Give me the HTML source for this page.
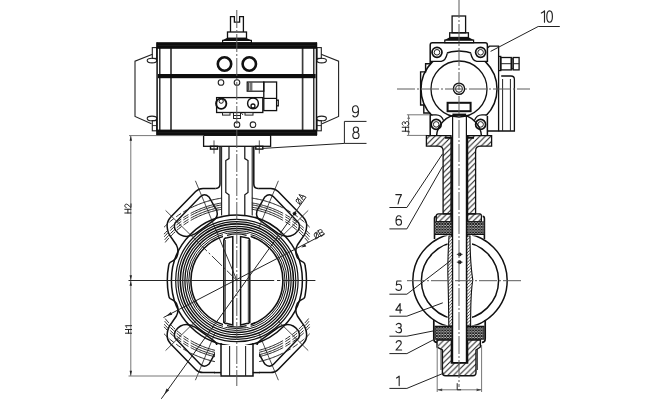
<!DOCTYPE html>
<html><head><meta charset="utf-8"><style>
html,body{margin:0;padding:0;background:#fff;}
svg{display:block;}
.k{fill:none;stroke:#111;}
.t{fill:none;stroke:#222;}
.g{fill:none;stroke:#777;stroke-width:1;}
.c{fill:none;stroke:#5a5a5a;stroke-width:1;stroke-dasharray:18 2 2 2;}
.d{fill:none;stroke:#222;stroke-width:0.9;stroke-dasharray:4 2;}
</style></head><body>
<svg width="646" height="400" viewBox="0 0 646 400">
<rect width="646" height="400" fill="#fff"/>
<path d="M230.5,32 V16.6 H234.4 V22.2 H239.6 V16.6 H243.4 V32" class="k" stroke-width="1.3"/>
<rect x="227.50" y="32.00" width="19.00" height="6.20" class="k" stroke-width="1.3"/>
<path d="M226.8,38 H246.2 L252,40.6 H222 Z" fill="#111"/>
<rect x="222.60" y="40.40" width="28.80" height="2.40" class="k" stroke-width="1.2"/>
<path d="M152.5,54.2 L135,61.2 V116.5 L151.5,123.8" class="t" stroke-width="1.1"/>
<rect x="152.3" y="47.6" width="4.3" height="10.8" class="t" stroke-width="1.1"/>
<ellipse cx="152" cy="60.6" rx="4.8" ry="2.3" class="t" stroke-width="1.1"/>
<ellipse cx="152" cy="118.4" rx="4.8" ry="2.3" class="t" stroke-width="1.1"/>
<rect x="152.3" y="120.6" width="4.3" height="10.2" class="t" stroke-width="1.1"/>
<line x1="152.3" y1="125.6" x2="156.6" y2="125.6" class="t" stroke-width="0.9"/>
<line x1="157.1" y1="42.6" x2="157.1" y2="135.2" class="k" stroke-width="1.5"/>
<line x1="159.8" y1="45" x2="159.8" y2="133" class="k" stroke-width="1.3"/>
<line x1="171" y1="45" x2="171" y2="133" class="t" stroke-width="1.7" style="stroke:#3a3a3a"/>
<g transform="matrix(-1,0,0,1,473.6,0)"><path d="M152.5,54.2 L135,61.2 V116.5 L151.5,123.8" class="t" stroke-width="1.1"/><rect x="152.3" y="47.6" width="4.3" height="10.8" class="t" stroke-width="1.1"/><ellipse cx="152" cy="60.6" rx="4.8" ry="2.3" class="t" stroke-width="1.1"/><ellipse cx="152" cy="118.4" rx="4.8" ry="2.3" class="t" stroke-width="1.1"/><rect x="152.3" y="120.6" width="4.3" height="10.2" class="t" stroke-width="1.1"/><line x1="152.3" y1="125.6" x2="156.6" y2="125.6" class="t" stroke-width="0.9"/><line x1="157.1" y1="42.6" x2="157.1" y2="135.2" class="k" stroke-width="1.5"/><line x1="159.8" y1="45" x2="159.8" y2="133" class="k" stroke-width="1.3"/><line x1="171" y1="45" x2="171" y2="133" class="t" stroke-width="1.7" style="stroke:#3a3a3a"/></g>
<rect x="156.4" y="42.2" width="160.6" height="6.6" fill="#0d0d0d"/>
<rect x="158" y="74" width="157.6" height="4.2" fill="#0d0d0d"/>
<rect x="156.4" y="129.6" width="160.6" height="6.2" fill="#0d0d0d"/>
<line x1="158.00" y1="45.50" x2="315.60" y2="45.50" class="t" stroke="#2a2a2a" stroke-width="0.5" style="stroke:#2a2a2a"/>
<line x1="158.00" y1="132.70" x2="315.60" y2="132.70" class="t" stroke-width="0.5" style="stroke:#2a2a2a"/>
<circle cx="224.50" cy="64.00" r="6.70" class="k" stroke-width="2.6"/>
<circle cx="249.30" cy="64.00" r="6.70" class="k" stroke-width="2.6"/>
<circle cx="221.00" cy="82.50" r="2.80" class="t" stroke-width="1.1"/>
<circle cx="237.00" cy="82.50" r="2.80" class="t" stroke-width="1.1"/>
<circle cx="237.00" cy="124.70" r="2.80" class="t" stroke-width="1.1"/>
<circle cx="253.00" cy="124.70" r="2.80" class="t" stroke-width="1.1"/>
<rect x="216.60" y="97.60" width="46.20" height="14.90" class="k" stroke-width="1.3"/>
<circle cx="221.20" cy="103.60" r="5.20" class="k" stroke-width="1.8"/>
<circle cx="221.20" cy="101.20" r="2.10" class="k" fill="#111" stroke-width="1"/>
<circle cx="253.00" cy="103.40" r="5.40" class="k" stroke-width="1.4"/>
<circle cx="253.00" cy="106.00" r="2.00" class="k" stroke-width="1.3"/>
<rect x="263.80" y="82.00" width="12.80" height="28.60" class="k" stroke-width="1.3"/>
<line x1="263.80" y1="98.40" x2="276.60" y2="98.40" class="k" stroke-width="1.2"/>
<rect x="247.20" y="82.00" width="16.60" height="9.20" class="k" stroke-width="1.2"/>
<line x1="248.60" y1="82.50" x2="248.60" y2="90.70" class="t" stroke-width="0.9"/>
<line x1="250.20" y1="82.50" x2="250.20" y2="90.70" class="t" stroke-width="0.9"/>
<line x1="251.80" y1="82.50" x2="251.80" y2="90.70" class="t" stroke-width="0.9"/>
<rect x="276.60" y="100.00" width="1.80" height="6.00" class="k" stroke-width="1.0"/>
<rect x="222.50" y="112.50" width="7.50" height="2.60" class="t" stroke-width="1"/>
<rect x="245.00" y="112.50" width="8.00" height="2.60" class="t" stroke-width="1"/>
<rect x="233.50" y="112.50" width="7.00" height="3.00" class="t" stroke-width="1"/>
<rect x="233.50" y="115.50" width="7.00" height="3.00" class="t" stroke-width="1"/>
<line x1="241.00" y1="112.50" x2="243.00" y2="115.00" class="t"  stroke-width="0.9"/>
<rect x="203.60" y="135.20" width="67.00" height="11.10" class="k" stroke-width="1.3"/>
<rect x="210.50" y="146.30" width="7.00" height="2.80" class="k" stroke-width="1.4"/>
<line x1="214.00" y1="140.40" x2="214.00" y2="153.60" class="t" stroke-width="0.8"/>
<rect x="255.80" y="146.30" width="7.00" height="2.80" class="k" stroke-width="1.4"/>
<line x1="259.30" y1="140.40" x2="259.30" y2="153.60" class="t" stroke-width="0.8"/>
<circle cx="236.90" cy="280.50" r="46.00" class="k" stroke-width="1.6"/>
<circle cx="236.90" cy="280.50" r="48.10" class="k" stroke-width="1.0"/>
<circle cx="236.90" cy="280.50" r="50.00" class="k" stroke-width="1.0"/>
<circle cx="236.90" cy="280.50" r="52.00" class="k" stroke-width="1.3"/>
<circle cx="236.90" cy="280.50" r="54.20" class="k" stroke-width="1.2"/>
<circle cx="236.90" cy="280.50" r="56.60" class="k" stroke-width="1.6"/>
<circle cx="236.90" cy="280.50" r="58.90" class="k" stroke-width="1.1"/>
<circle cx="236.90" cy="280.50" r="61.20" class="k" stroke-width="1.2"/>
<circle cx="236.90" cy="280.50" r="65.50" class="k" stroke-width="1.5"/>
<path d="M215.6,188.4 H203 Q198.6,188.4 195.6,191.6 L170.8,217 Q166.6,221.6 167.2,227 Q167.6,233.5 171.8,238.3 L176.4,245 Q179.6,251 176.4,257.8 Q173.6,261.2 170.2,262.4 Q168.9,263.2 168.7,265.5 Q167.3,272.5 167.3,280.5" class="k" stroke-width="1.5"/><path d="M175.2,222.8 L200.5,196.6 Q204.5,192.8 209,197 L216.8,210.6 Q218.6,217 213.4,220.6 L195.4,233.6 Q183.4,240.6 175.6,230.4 Q173.4,226.2 175.2,222.8 Z" class="k" stroke-width="1.5"/>
<g transform="matrix(-1,0,0,1,473.80,0)"><path d="M215.6,188.4 H203 Q198.6,188.4 195.6,191.6 L170.8,217 Q166.6,221.6 167.2,227 Q167.6,233.5 171.8,238.3 L176.4,245 Q179.6,251 176.4,257.8 Q173.6,261.2 170.2,262.4 Q168.9,263.2 168.7,265.5 Q167.3,272.5 167.3,280.5" class="k" stroke-width="1.5"/><path d="M175.2,222.8 L200.5,196.6 Q204.5,192.8 209,197 L216.8,210.6 Q218.6,217 213.4,220.6 L195.4,233.6 Q183.4,240.6 175.6,230.4 Q173.4,226.2 175.2,222.8 Z" class="k" stroke-width="1.5"/></g>
<g transform="matrix(1,0,0,-1,0,561.00)"><path d="M215.6,188.4 H203 Q198.6,188.4 195.6,191.6 L170.8,217 Q166.6,221.6 167.2,227 Q167.6,233.5 171.8,238.3 L176.4,245 Q179.6,251 176.4,257.8 Q173.6,261.2 170.2,262.4 Q168.9,263.2 168.7,265.5 Q167.3,272.5 167.3,280.5" class="k" stroke-width="1.5"/><path d="M175.2,222.8 L200.5,196.6 Q204.5,192.8 209,197 L216.8,210.6 Q218.6,217 213.4,220.6 L195.4,233.6 Q183.4,240.6 175.6,230.4 Q173.4,226.2 175.2,222.8 Z" class="k" stroke-width="1.5"/></g>
<g transform="matrix(-1,0,0,-1,473.80,561.00)"><path d="M215.6,188.4 H203 Q198.6,188.4 195.6,191.6 L170.8,217 Q166.6,221.6 167.2,227 Q167.6,233.5 171.8,238.3 L176.4,245 Q179.6,251 176.4,257.8 Q173.6,261.2 170.2,262.4 Q168.9,263.2 168.7,265.5 Q167.3,272.5 167.3,280.5" class="k" stroke-width="1.5"/><path d="M175.2,222.8 L200.5,196.6 Q204.5,192.8 209,197 L216.8,210.6 Q218.6,217 213.4,220.6 L195.4,233.6 Q183.4,240.6 175.6,230.4 Q173.4,226.2 175.2,222.8 Z" class="k" stroke-width="1.5"/></g>
<clipPath id="lugclip"><path d="M221.6,150 V188.4 H203 Q198.6,188.4 195.6,191.6 L170.8,217 Q163,224 163,232 L165,248 L236.9,280.5 Z"/></clipPath>
<g clip-path="url(#lugclip)"><path d="M222.00,209.21 L220.70,209.44 L219.40,209.68 L218.10,209.94 L216.80,210.22 L215.50,210.52 L214.20,210.84 L212.90,211.19 L211.60,211.55 L210.30,211.93 L209.00,212.33 L207.70,212.76 L206.40,213.20 L205.10,213.67 L203.80,214.16 L202.50,214.67 L201.20,215.21 L199.90,215.77 L198.60,216.35 L197.30,216.96 L196.00,217.59" class="t" stroke-width="1.0"/><path d="M196.00,217.59 L194.40,218.40 L192.80,219.26 L191.20,220.15 L189.60,221.09 L188.00,222.07 L186.40,223.10 L184.80,224.17 L183.20,225.30 L181.60,226.48 L180.00,227.71 L178.40,228.99 L176.80,230.34 L175.20,231.76 L173.60,233.24 L172.00,234.79 L170.40,236.43 L168.80,238.14 L167.20,239.95 L165.60,241.86 L164.00,243.88" class="t" stroke-width="0.95" stroke-dasharray="6 2.5"/><path d="M222.00,207.19 L220.70,207.41 L219.40,207.64 L218.10,207.90 L216.80,208.17 L215.50,208.47 L214.20,208.78 L212.90,209.12 L211.60,209.47 L210.30,209.84 L209.00,210.24 L207.70,210.65 L206.40,211.09 L205.10,211.54 L203.80,212.02 L202.50,212.52 L201.20,213.04 L199.90,213.59 L198.60,214.16 L197.30,214.75 L196.00,215.36" class="t" stroke-width="1.0"/><path d="M196.00,215.36 L194.40,216.16 L192.80,216.99 L191.20,217.86 L189.60,218.77 L188.00,219.72 L186.40,220.72 L184.80,221.76 L183.20,222.85 L181.60,223.99 L180.00,225.18 L178.40,226.42 L176.80,227.72 L175.20,229.08 L173.60,230.51 L172.00,232.00 L170.40,233.56 L168.80,235.21 L167.20,236.93 L165.60,238.74 L164.00,240.66" class="t" stroke-width="0.95" stroke-dasharray="6 2.5"/><path d="M222.00,204.86 L220.70,205.07 L219.40,205.30 L218.10,205.55 L216.80,205.82 L215.50,206.11 L214.20,206.41 L212.90,206.74 L211.60,207.08 L210.30,207.45 L209.00,207.83 L207.70,208.23 L206.40,208.66 L205.10,209.10 L203.80,209.57 L202.50,210.05 L201.20,210.56 L199.90,211.09 L198.60,211.64 L197.30,212.22 L196.00,212.82" class="t" stroke-width="1.0"/><path d="M196.00,212.82 L194.40,213.59 L192.80,214.39 L191.20,215.23 L189.60,216.12 L188.00,217.04 L186.40,218.00 L184.80,219.01 L183.20,220.06 L181.60,221.16 L180.00,222.31 L178.40,223.51 L176.80,224.76 L175.20,226.06 L173.60,227.43 L172.00,228.85 L170.40,230.35 L168.80,231.91 L167.20,233.55 L165.60,235.27 L164.00,237.08" class="t" stroke-width="0.95" stroke-dasharray="6 2.5"/><path d="M222.00,202.94 L220.70,203.15 L219.40,203.37 L218.10,203.62 L216.80,203.88 L215.50,204.16 L214.20,204.46 L212.90,204.78 L211.60,205.12 L210.30,205.47 L209.00,205.85 L207.70,206.24 L206.40,206.66 L205.10,207.09 L203.80,207.55 L202.50,208.02 L201.20,208.52 L199.90,209.04 L198.60,209.58 L197.30,210.14 L196.00,210.72" class="t" stroke-width="1.0"/><path d="M196.00,210.72 L194.40,211.47 L192.80,212.26 L191.20,213.08 L189.60,213.94 L188.00,214.84 L186.40,215.78 L184.80,216.76 L183.20,217.78 L181.60,218.85 L180.00,219.96 L178.40,221.13 L176.80,222.34 L175.20,223.60 L173.60,224.92 L172.00,226.30 L170.40,227.74 L168.80,229.25 L167.20,230.83 L165.60,232.48 L164.00,234.21" class="t" stroke-width="0.95" stroke-dasharray="6 2.5"/><path d="M222.00,198.08 L220.70,198.28 L219.40,198.50 L218.10,198.73 L216.80,198.98 L215.50,199.25 L214.20,199.53 L212.90,199.84 L211.60,200.16 L210.30,200.49 L209.00,200.85 L207.70,201.23 L206.40,201.62 L205.10,202.03 L203.80,202.46 L202.50,202.91 L201.20,203.38 L199.90,203.88 L198.60,204.39 L197.30,204.92 L196.00,205.47" class="t" stroke-width="1.0"/><path d="M196.00,205.47 L194.40,206.18 L192.80,206.92 L191.20,207.69 L189.60,208.50 L188.00,209.35 L186.40,210.23 L184.80,211.15 L183.20,212.11 L181.60,213.10 L180.00,214.14 L178.40,215.23 L176.80,216.35 L175.20,217.53 L173.60,218.75 L172.00,220.02 L170.40,221.34 L168.80,222.73 L167.20,224.17 L165.60,225.67 L164.00,227.24" class="t" stroke-width="0.95" stroke-dasharray="6 2.5"/></g>
<g transform="matrix(-1,0,0,1,473.80,0)"><g clip-path="url(#lugclip)"><path d="M222.00,209.21 L220.70,209.44 L219.40,209.68 L218.10,209.94 L216.80,210.22 L215.50,210.52 L214.20,210.84 L212.90,211.19 L211.60,211.55 L210.30,211.93 L209.00,212.33 L207.70,212.76 L206.40,213.20 L205.10,213.67 L203.80,214.16 L202.50,214.67 L201.20,215.21 L199.90,215.77 L198.60,216.35 L197.30,216.96 L196.00,217.59" class="t" stroke-width="1.0"/><path d="M196.00,217.59 L194.40,218.40 L192.80,219.26 L191.20,220.15 L189.60,221.09 L188.00,222.07 L186.40,223.10 L184.80,224.17 L183.20,225.30 L181.60,226.48 L180.00,227.71 L178.40,228.99 L176.80,230.34 L175.20,231.76 L173.60,233.24 L172.00,234.79 L170.40,236.43 L168.80,238.14 L167.20,239.95 L165.60,241.86 L164.00,243.88" class="t" stroke-width="0.95" stroke-dasharray="6 2.5"/><path d="M222.00,207.19 L220.70,207.41 L219.40,207.64 L218.10,207.90 L216.80,208.17 L215.50,208.47 L214.20,208.78 L212.90,209.12 L211.60,209.47 L210.30,209.84 L209.00,210.24 L207.70,210.65 L206.40,211.09 L205.10,211.54 L203.80,212.02 L202.50,212.52 L201.20,213.04 L199.90,213.59 L198.60,214.16 L197.30,214.75 L196.00,215.36" class="t" stroke-width="1.0"/><path d="M196.00,215.36 L194.40,216.16 L192.80,216.99 L191.20,217.86 L189.60,218.77 L188.00,219.72 L186.40,220.72 L184.80,221.76 L183.20,222.85 L181.60,223.99 L180.00,225.18 L178.40,226.42 L176.80,227.72 L175.20,229.08 L173.60,230.51 L172.00,232.00 L170.40,233.56 L168.80,235.21 L167.20,236.93 L165.60,238.74 L164.00,240.66" class="t" stroke-width="0.95" stroke-dasharray="6 2.5"/><path d="M222.00,204.86 L220.70,205.07 L219.40,205.30 L218.10,205.55 L216.80,205.82 L215.50,206.11 L214.20,206.41 L212.90,206.74 L211.60,207.08 L210.30,207.45 L209.00,207.83 L207.70,208.23 L206.40,208.66 L205.10,209.10 L203.80,209.57 L202.50,210.05 L201.20,210.56 L199.90,211.09 L198.60,211.64 L197.30,212.22 L196.00,212.82" class="t" stroke-width="1.0"/><path d="M196.00,212.82 L194.40,213.59 L192.80,214.39 L191.20,215.23 L189.60,216.12 L188.00,217.04 L186.40,218.00 L184.80,219.01 L183.20,220.06 L181.60,221.16 L180.00,222.31 L178.40,223.51 L176.80,224.76 L175.20,226.06 L173.60,227.43 L172.00,228.85 L170.40,230.35 L168.80,231.91 L167.20,233.55 L165.60,235.27 L164.00,237.08" class="t" stroke-width="0.95" stroke-dasharray="6 2.5"/><path d="M222.00,202.94 L220.70,203.15 L219.40,203.37 L218.10,203.62 L216.80,203.88 L215.50,204.16 L214.20,204.46 L212.90,204.78 L211.60,205.12 L210.30,205.47 L209.00,205.85 L207.70,206.24 L206.40,206.66 L205.10,207.09 L203.80,207.55 L202.50,208.02 L201.20,208.52 L199.90,209.04 L198.60,209.58 L197.30,210.14 L196.00,210.72" class="t" stroke-width="1.0"/><path d="M196.00,210.72 L194.40,211.47 L192.80,212.26 L191.20,213.08 L189.60,213.94 L188.00,214.84 L186.40,215.78 L184.80,216.76 L183.20,217.78 L181.60,218.85 L180.00,219.96 L178.40,221.13 L176.80,222.34 L175.20,223.60 L173.60,224.92 L172.00,226.30 L170.40,227.74 L168.80,229.25 L167.20,230.83 L165.60,232.48 L164.00,234.21" class="t" stroke-width="0.95" stroke-dasharray="6 2.5"/><path d="M222.00,198.08 L220.70,198.28 L219.40,198.50 L218.10,198.73 L216.80,198.98 L215.50,199.25 L214.20,199.53 L212.90,199.84 L211.60,200.16 L210.30,200.49 L209.00,200.85 L207.70,201.23 L206.40,201.62 L205.10,202.03 L203.80,202.46 L202.50,202.91 L201.20,203.38 L199.90,203.88 L198.60,204.39 L197.30,204.92 L196.00,205.47" class="t" stroke-width="1.0"/><path d="M196.00,205.47 L194.40,206.18 L192.80,206.92 L191.20,207.69 L189.60,208.50 L188.00,209.35 L186.40,210.23 L184.80,211.15 L183.20,212.11 L181.60,213.10 L180.00,214.14 L178.40,215.23 L176.80,216.35 L175.20,217.53 L173.60,218.75 L172.00,220.02 L170.40,221.34 L168.80,222.73 L167.20,224.17 L165.60,225.67 L164.00,227.24" class="t" stroke-width="0.95" stroke-dasharray="6 2.5"/></g></g>
<g transform="matrix(1,0,0,-1,0,561.00)"><g clip-path="url(#lugclip)"><path d="M222.00,209.21 L220.70,209.44 L219.40,209.68 L218.10,209.94 L216.80,210.22 L215.50,210.52 L214.20,210.84 L212.90,211.19 L211.60,211.55 L210.30,211.93 L209.00,212.33 L207.70,212.76 L206.40,213.20 L205.10,213.67 L203.80,214.16 L202.50,214.67 L201.20,215.21 L199.90,215.77 L198.60,216.35 L197.30,216.96 L196.00,217.59" class="t" stroke-width="1.0"/><path d="M196.00,217.59 L194.40,218.40 L192.80,219.26 L191.20,220.15 L189.60,221.09 L188.00,222.07 L186.40,223.10 L184.80,224.17 L183.20,225.30 L181.60,226.48 L180.00,227.71 L178.40,228.99 L176.80,230.34 L175.20,231.76 L173.60,233.24 L172.00,234.79 L170.40,236.43 L168.80,238.14 L167.20,239.95 L165.60,241.86 L164.00,243.88" class="t" stroke-width="0.95" stroke-dasharray="6 2.5"/><path d="M222.00,207.19 L220.70,207.41 L219.40,207.64 L218.10,207.90 L216.80,208.17 L215.50,208.47 L214.20,208.78 L212.90,209.12 L211.60,209.47 L210.30,209.84 L209.00,210.24 L207.70,210.65 L206.40,211.09 L205.10,211.54 L203.80,212.02 L202.50,212.52 L201.20,213.04 L199.90,213.59 L198.60,214.16 L197.30,214.75 L196.00,215.36" class="t" stroke-width="1.0"/><path d="M196.00,215.36 L194.40,216.16 L192.80,216.99 L191.20,217.86 L189.60,218.77 L188.00,219.72 L186.40,220.72 L184.80,221.76 L183.20,222.85 L181.60,223.99 L180.00,225.18 L178.40,226.42 L176.80,227.72 L175.20,229.08 L173.60,230.51 L172.00,232.00 L170.40,233.56 L168.80,235.21 L167.20,236.93 L165.60,238.74 L164.00,240.66" class="t" stroke-width="0.95" stroke-dasharray="6 2.5"/><path d="M222.00,204.86 L220.70,205.07 L219.40,205.30 L218.10,205.55 L216.80,205.82 L215.50,206.11 L214.20,206.41 L212.90,206.74 L211.60,207.08 L210.30,207.45 L209.00,207.83 L207.70,208.23 L206.40,208.66 L205.10,209.10 L203.80,209.57 L202.50,210.05 L201.20,210.56 L199.90,211.09 L198.60,211.64 L197.30,212.22 L196.00,212.82" class="t" stroke-width="1.0"/><path d="M196.00,212.82 L194.40,213.59 L192.80,214.39 L191.20,215.23 L189.60,216.12 L188.00,217.04 L186.40,218.00 L184.80,219.01 L183.20,220.06 L181.60,221.16 L180.00,222.31 L178.40,223.51 L176.80,224.76 L175.20,226.06 L173.60,227.43 L172.00,228.85 L170.40,230.35 L168.80,231.91 L167.20,233.55 L165.60,235.27 L164.00,237.08" class="t" stroke-width="0.95" stroke-dasharray="6 2.5"/><path d="M222.00,202.94 L220.70,203.15 L219.40,203.37 L218.10,203.62 L216.80,203.88 L215.50,204.16 L214.20,204.46 L212.90,204.78 L211.60,205.12 L210.30,205.47 L209.00,205.85 L207.70,206.24 L206.40,206.66 L205.10,207.09 L203.80,207.55 L202.50,208.02 L201.20,208.52 L199.90,209.04 L198.60,209.58 L197.30,210.14 L196.00,210.72" class="t" stroke-width="1.0"/><path d="M196.00,210.72 L194.40,211.47 L192.80,212.26 L191.20,213.08 L189.60,213.94 L188.00,214.84 L186.40,215.78 L184.80,216.76 L183.20,217.78 L181.60,218.85 L180.00,219.96 L178.40,221.13 L176.80,222.34 L175.20,223.60 L173.60,224.92 L172.00,226.30 L170.40,227.74 L168.80,229.25 L167.20,230.83 L165.60,232.48 L164.00,234.21" class="t" stroke-width="0.95" stroke-dasharray="6 2.5"/><path d="M222.00,198.08 L220.70,198.28 L219.40,198.50 L218.10,198.73 L216.80,198.98 L215.50,199.25 L214.20,199.53 L212.90,199.84 L211.60,200.16 L210.30,200.49 L209.00,200.85 L207.70,201.23 L206.40,201.62 L205.10,202.03 L203.80,202.46 L202.50,202.91 L201.20,203.38 L199.90,203.88 L198.60,204.39 L197.30,204.92 L196.00,205.47" class="t" stroke-width="1.0"/><path d="M196.00,205.47 L194.40,206.18 L192.80,206.92 L191.20,207.69 L189.60,208.50 L188.00,209.35 L186.40,210.23 L184.80,211.15 L183.20,212.11 L181.60,213.10 L180.00,214.14 L178.40,215.23 L176.80,216.35 L175.20,217.53 L173.60,218.75 L172.00,220.02 L170.40,221.34 L168.80,222.73 L167.20,224.17 L165.60,225.67 L164.00,227.24" class="t" stroke-width="0.95" stroke-dasharray="6 2.5"/></g></g>
<g transform="matrix(-1,0,0,-1,473.80,561.00)"><g clip-path="url(#lugclip)"><path d="M222.00,209.21 L220.70,209.44 L219.40,209.68 L218.10,209.94 L216.80,210.22 L215.50,210.52 L214.20,210.84 L212.90,211.19 L211.60,211.55 L210.30,211.93 L209.00,212.33 L207.70,212.76 L206.40,213.20 L205.10,213.67 L203.80,214.16 L202.50,214.67 L201.20,215.21 L199.90,215.77 L198.60,216.35 L197.30,216.96 L196.00,217.59" class="t" stroke-width="1.0"/><path d="M196.00,217.59 L194.40,218.40 L192.80,219.26 L191.20,220.15 L189.60,221.09 L188.00,222.07 L186.40,223.10 L184.80,224.17 L183.20,225.30 L181.60,226.48 L180.00,227.71 L178.40,228.99 L176.80,230.34 L175.20,231.76 L173.60,233.24 L172.00,234.79 L170.40,236.43 L168.80,238.14 L167.20,239.95 L165.60,241.86 L164.00,243.88" class="t" stroke-width="0.95" stroke-dasharray="6 2.5"/><path d="M222.00,207.19 L220.70,207.41 L219.40,207.64 L218.10,207.90 L216.80,208.17 L215.50,208.47 L214.20,208.78 L212.90,209.12 L211.60,209.47 L210.30,209.84 L209.00,210.24 L207.70,210.65 L206.40,211.09 L205.10,211.54 L203.80,212.02 L202.50,212.52 L201.20,213.04 L199.90,213.59 L198.60,214.16 L197.30,214.75 L196.00,215.36" class="t" stroke-width="1.0"/><path d="M196.00,215.36 L194.40,216.16 L192.80,216.99 L191.20,217.86 L189.60,218.77 L188.00,219.72 L186.40,220.72 L184.80,221.76 L183.20,222.85 L181.60,223.99 L180.00,225.18 L178.40,226.42 L176.80,227.72 L175.20,229.08 L173.60,230.51 L172.00,232.00 L170.40,233.56 L168.80,235.21 L167.20,236.93 L165.60,238.74 L164.00,240.66" class="t" stroke-width="0.95" stroke-dasharray="6 2.5"/><path d="M222.00,204.86 L220.70,205.07 L219.40,205.30 L218.10,205.55 L216.80,205.82 L215.50,206.11 L214.20,206.41 L212.90,206.74 L211.60,207.08 L210.30,207.45 L209.00,207.83 L207.70,208.23 L206.40,208.66 L205.10,209.10 L203.80,209.57 L202.50,210.05 L201.20,210.56 L199.90,211.09 L198.60,211.64 L197.30,212.22 L196.00,212.82" class="t" stroke-width="1.0"/><path d="M196.00,212.82 L194.40,213.59 L192.80,214.39 L191.20,215.23 L189.60,216.12 L188.00,217.04 L186.40,218.00 L184.80,219.01 L183.20,220.06 L181.60,221.16 L180.00,222.31 L178.40,223.51 L176.80,224.76 L175.20,226.06 L173.60,227.43 L172.00,228.85 L170.40,230.35 L168.80,231.91 L167.20,233.55 L165.60,235.27 L164.00,237.08" class="t" stroke-width="0.95" stroke-dasharray="6 2.5"/><path d="M222.00,202.94 L220.70,203.15 L219.40,203.37 L218.10,203.62 L216.80,203.88 L215.50,204.16 L214.20,204.46 L212.90,204.78 L211.60,205.12 L210.30,205.47 L209.00,205.85 L207.70,206.24 L206.40,206.66 L205.10,207.09 L203.80,207.55 L202.50,208.02 L201.20,208.52 L199.90,209.04 L198.60,209.58 L197.30,210.14 L196.00,210.72" class="t" stroke-width="1.0"/><path d="M196.00,210.72 L194.40,211.47 L192.80,212.26 L191.20,213.08 L189.60,213.94 L188.00,214.84 L186.40,215.78 L184.80,216.76 L183.20,217.78 L181.60,218.85 L180.00,219.96 L178.40,221.13 L176.80,222.34 L175.20,223.60 L173.60,224.92 L172.00,226.30 L170.40,227.74 L168.80,229.25 L167.20,230.83 L165.60,232.48 L164.00,234.21" class="t" stroke-width="0.95" stroke-dasharray="6 2.5"/><path d="M222.00,198.08 L220.70,198.28 L219.40,198.50 L218.10,198.73 L216.80,198.98 L215.50,199.25 L214.20,199.53 L212.90,199.84 L211.60,200.16 L210.30,200.49 L209.00,200.85 L207.70,201.23 L206.40,201.62 L205.10,202.03 L203.80,202.46 L202.50,202.91 L201.20,203.38 L199.90,203.88 L198.60,204.39 L197.30,204.92 L196.00,205.47" class="t" stroke-width="1.0"/><path d="M196.00,205.47 L194.40,206.18 L192.80,206.92 L191.20,207.69 L189.60,208.50 L188.00,209.35 L186.40,210.23 L184.80,211.15 L183.20,212.11 L181.60,213.10 L180.00,214.14 L178.40,215.23 L176.80,216.35 L175.20,217.53 L173.60,218.75 L172.00,220.02 L170.40,221.34 L168.80,222.73 L167.20,224.17 L165.60,225.67 L164.00,227.24" class="t" stroke-width="0.95" stroke-dasharray="6 2.5"/></g></g>
<line x1="215.38" y1="228.80" x2="195.40" y2="180.79" class="t" stroke-width="0.8"/><line x1="196.96" y1="241.25" x2="165.57" y2="210.41" class="t" stroke-width="0.8"/>
<g transform="matrix(-1,0,0,1,473.80,0)"><line x1="215.38" y1="228.80" x2="195.40" y2="180.79" class="t" stroke-width="0.8"/><line x1="196.96" y1="241.25" x2="165.57" y2="210.41" class="t" stroke-width="0.8"/></g>
<g transform="matrix(1,0,0,-1,0,561.00)"><line x1="215.38" y1="228.80" x2="195.40" y2="180.79" class="t" stroke-width="0.8"/><line x1="196.96" y1="241.25" x2="165.57" y2="210.41" class="t" stroke-width="0.8"/></g>
<g transform="matrix(-1,0,0,-1,473.80,561.00)"><line x1="215.38" y1="228.80" x2="195.40" y2="180.79" class="t" stroke-width="0.8"/><line x1="196.96" y1="241.25" x2="165.57" y2="210.41" class="t" stroke-width="0.8"/></g>
<path d="M220,146.3 V184 Q220,188.4 215.6,188.4" class="k" stroke-width="1.5"/>
<path d="M253.8,146.3 V184 Q253.8,188.4 258.2,188.4" class="k" stroke-width="1.5"/>
<path d="M221,372.6 H215.6" class="k" stroke-width="1.5"/>
<path d="M252.8,372.6 H258.2" class="k" stroke-width="1.5"/>
<line x1="221.60" y1="146.30" x2="221.60" y2="215.50" class="t" stroke-width="1.1"/>
<line x1="252.20" y1="146.30" x2="252.20" y2="215.50" class="t" stroke-width="1.1"/>
<path d="M229,146.3 V158.6 L225.8,160.6 V192.4 L229,194.8 V215.5" class="k" stroke-width="1.2"/>
<path d="M244.8,146.3 V158.6 L248,160.6 V192.4 L244.8,194.8 V215.5" class="k" stroke-width="1.2"/>
<rect x="215" y="345" width="44" height="31" fill="#fff" stroke="none"/>
<path d="M221,343 V376 H253 V343" class="k" stroke-width="1.5"/>
<path d="M221,372.6 H214" class="k" stroke-width="1.5"/>
<path d="M252.8,372.6 H259.8" class="k" stroke-width="1.5"/>
<line x1="229.60" y1="346.00" x2="229.60" y2="376.00" class="t" stroke-width="1.1"/>
<line x1="245.60" y1="346.00" x2="245.60" y2="376.00" class="t" stroke-width="1.1"/>
<rect x="223" y="234" width="27.6" height="93" fill="#fff" stroke="none"/>
<path d="M223.8,323 V241 Q223.8,237.8 227,237.8 L232.8,236.6 V325 L227,323.6 Q223.8,323.6 223.8,321" class="k" stroke-width="1.5"/>
<path d="M249.8,323 V241 Q249.8,237.8 246.6,237.8 L240.6,236.6 V325 L246.6,323.6 Q249.8,323.6 249.8,321" class="k" stroke-width="1.5"/>
<line x1="225.30" y1="240.00" x2="225.30" y2="322.00" class="t" stroke-width="0.9"/>
<line x1="248.30" y1="240.00" x2="248.30" y2="322.00" class="t" stroke-width="0.9"/>
<path d="M227,235.4 Q236.8,232.6 246.6,235.4" class="k" stroke-width="1.2"/>
<path d="M227,325.6 Q236.8,328.4 246.6,325.6" class="k" stroke-width="1.2"/>
<line x1="236.90" y1="280.50" x2="215.38" y2="228.80" class="t" stroke-width="0.9"/>
<line x1="236.90" y1="280.50" x2="196.96" y2="241.25" fill="none" stroke="#222" stroke-width="0.9" stroke-dasharray="14 2.5 2 2.5"/>
<line x1="129.00" y1="135.60" x2="203.60" y2="135.60" class="g" />
<line x1="130.80" y1="135.60" x2="130.80" y2="280.50" class="g" />
<line x1="128.50" y1="376.00" x2="221.00" y2="376.00" class="g" />
<line x1="130.80" y1="280.50" x2="130.80" y2="376.00" class="g" />
<line x1="161.30" y1="398.80" x2="306.20" y2="197.00" class="t" stroke-width="1"/>
<line x1="163.50" y1="317.50" x2="324.70" y2="233.80" class="t" stroke-width="1"/>
<path d="M164.40,394.20 L166.56,388.38 L169.17,390.23 Z" fill="#222" stroke="none"/>
<path d="M166.20,316.10 L170.78,311.90 L172.26,314.74 Z" fill="#222" stroke="none"/>
<path d="M301.20,247.60 L304.98,244.04 L306.28,246.53 Z" fill="#222" stroke="none"/>
<circle cx="294.60" cy="213.50" r="1.50" class="k" style="fill:#111" stroke-width="0.6"/>
<path d="M130.80,135.80 L132.00,140.80 L129.60,140.80 Z" fill="#222" stroke="none"/>
<path d="M130.80,280.30 L129.60,275.30 L132.00,275.30 Z" fill="#222" stroke="none"/>
<path d="M130.80,280.70 L132.00,285.70 L129.60,285.70 Z" fill="#222" stroke="none"/>
<path d="M130.80,375.80 L129.60,370.80 L132.00,370.80 Z" fill="#222" stroke="none"/>
<path d="M408.60,115.00 L409.70,119.00 L407.50,119.00 Z" fill="#222" stroke="none"/>
<path d="M408.60,135.20 L407.50,131.20 L409.70,131.20 Z" fill="#222" stroke="none"/>
<line x1="344.40" y1="121.40" x2="366.50" y2="121.40" class="t" stroke-width="1"/>
<line x1="344.40" y1="121.40" x2="344.40" y2="143.40" class="t" stroke-width="1"/>
<line x1="344.40" y1="143.40" x2="366.50" y2="143.40" class="t" stroke-width="1"/>
<line x1="344.40" y1="143.40" x2="262.90" y2="148.40" class="t" stroke-width="1"/>
<rect x="452.10" y="16.00" width="13.50" height="16.80" class="k" stroke-width="1.3"/>
<rect x="449.70" y="32.80" width="18.70" height="4.70" class="k" stroke-width="1.3"/>
<path d="M449.2,37.5 H469 L474.2,40.2 H444.2 Z" fill="#111"/>
<rect x="444.80" y="40.10" width="28.80" height="2.60" class="k" stroke-width="1.2"/>
<path d="M430.2,64 V45 Q430.2,42.8 432.4,42.8 H485.2 Q487.4,42.8 487.4,45 V62" class="k" stroke-width="1.5"/>
<path d="M430.2,113 V135.3 M487.4,116 V135.3" class="k" stroke-width="1.5"/>
<circle cx="437.00" cy="52.30" r="5.00" class="k" stroke-width="1.7"/>
<circle cx="437.00" cy="52.30" r="2.80" class="t" stroke-width="1"/>
<circle cx="480.60" cy="52.30" r="5.00" class="k" stroke-width="1.7"/>
<circle cx="480.60" cy="52.30" r="2.80" class="t" stroke-width="1"/>
<circle cx="436.20" cy="124.40" r="5.00" class="k" stroke-width="1.7"/>
<circle cx="436.20" cy="124.40" r="2.80" class="t" stroke-width="1"/>
<circle cx="480.60" cy="124.40" r="5.00" class="k" stroke-width="1.7"/>
<circle cx="480.60" cy="124.40" r="2.80" class="t" stroke-width="1"/>
<clipPath id="bigc"><rect x="400" y="61.5" width="120" height="54.1"/><rect x="446.8" y="40" width="24.4" height="22"/></clipPath>
<circle cx="459.00" cy="89.00" r="38.00" class="k" stroke-width="1.5" clip-path="url(#bigc)"/>
<circle cx="459.00" cy="89.00" r="28.00" class="k" stroke-width="1.3"/>
<circle cx="459.00" cy="88.80" r="5.60" class="k" stroke-width="1.4"/>
<circle cx="459.00" cy="88.80" r="3.50" class="t" stroke-width="1"/>
<rect x="447.60" y="102.80" width="23.00" height="8.40" class="k" stroke-width="2"/>
<path d="M430.2,63.8 H425.6 V71.9 H420.6 V105 H423.8 V113 H430.2" class="k" stroke-width="1.4"/>
<path d="M487.4,48 L489.5,46.2 H498.6 V131 H487.4" class="k" stroke-width="1.3"/>
<path d="M501.2,76 H511 Q514.4,76 514.4,79.4 V131 H498.6" class="k" stroke-width="1.3"/>
<line x1="502.60" y1="79.00" x2="502.60" y2="131.00" class="t" stroke-width="1"/>
<line x1="510.40" y1="79.00" x2="510.40" y2="131.00" class="t" stroke-width="1"/>
<rect x="498.60" y="56.40" width="2.20" height="14.20" class="k" stroke-width="1.2"/>
<rect x="500.80" y="57.50" width="10.50" height="12.40" class="k" stroke-width="1.3"/>
<line x1="500.80" y1="63.70" x2="511.30" y2="63.70" class="t" stroke-width="1"/>
<rect x="511.30" y="58.80" width="1.80" height="10.00" class="k" stroke-width="1"/>
<rect x="513.10" y="57.50" width="6.00" height="12.40" class="k" stroke-width="1.3"/>
<line x1="513.10" y1="63.70" x2="519.10" y2="63.70" class="t" stroke-width="1"/>
<path d="M490.6,51.4 L538.2,26.5 H559.8" class="t" stroke-width="1"/>
<path d="M430.2,61.4 H441.2 Q445.6,60.8 447.2,53.6" class="k" stroke-width="1.4"/>
<path d="M487.4,61.4 H476.8 Q472.4,60.8 470.8,53.6" class="k" stroke-width="1.4"/>
<path d="M430.2,114.8 H436 Q441.5,114.8 443.6,120.6 M487.4,114.8 H482 Q476.5,114.8 474.4,120.6" class="k" stroke-width="1.3"/>
<clipPath id="domeclip"><rect x="430" y="100" width="58" height="35.2"/></clipPath>
<circle cx="459.00" cy="137.30" r="22.50" class="k" stroke-width="1.4" clip-path="url(#domeclip)"/>
<line x1="406.90" y1="114.80" x2="430.20" y2="114.80" class="g" />
<line x1="406.90" y1="135.40" x2="426.60" y2="135.40" class="g" />
<line x1="408.60" y1="114.80" x2="408.60" y2="135.40" class="g" />
<rect x="452.4" y="113.6" width="13.8" height="2.2" fill="#111"/>
<defs>
<pattern id="hat" patternUnits="userSpaceOnUse" width="5.6" height="5.6"><path d="M-1,6.6 L6.6,-1 M-1,1 L1,-1 M4.6,6.6 L6.6,4.6" stroke="#1a1a1a" stroke-width="1"/></pattern>
<pattern id="hat2" patternUnits="userSpaceOnUse" width="3.2" height="3.2"><path d="M-1,4.2 L4.2,-1 M-1,1 L1,-1 M2.2,4.2 L4.2,2.2" stroke="#222" stroke-width="0.8"/></pattern>
<pattern id="xh" patternUnits="userSpaceOnUse" width="2.8" height="2.8"><rect width="2.8" height="2.8" fill="#fff"/><path d="M0,0 L2.8,2.8 M2.8,0 L0,2.8" stroke="#111" stroke-width="0.95"/></pattern>
</defs>
<path d="M426.4,135.6 H451 V213.8 H443.1 V151 Q443.1,146.2 438,146.2 H426.4 Z" class="k" style="fill:url(#hat)" stroke-width="1.3"/>
<path d="M491.6,135.6 H467.6 V213.8 H475.6 V151 Q475.6,146.2 480.7,146.2 H491.6 Z" class="k" style="fill:url(#hat)" stroke-width="1.3"/>
<path d="M438.5,213.8 H451 V221.6 H436.3 V216 Q436.3,213.8 438.5,213.8 Z" class="k" style="fill:url(#hat)" stroke-width="1.2"/>
<path d="M479.8,213.8 H467.6 V221.6 H481.4 V216 Q481.4,213.8 479.8,213.8 Z" class="k" style="fill:url(#hat)" stroke-width="1.2"/>
<line x1="451.90" y1="137.00" x2="451.90" y2="236.00" class="k" stroke-width="1.6"/>
<line x1="467.00" y1="137.00" x2="467.00" y2="236.00" class="k" stroke-width="1.6"/>
<path d="M445,137.8 H452 M467,137.8 H474" stroke="#111" stroke-width="2"/>
<path d="M434.5,239 V218.6 Q434.5,216.4 436.3,216.4" class="k" stroke-width="1.6"/>
<path d="M484.4,239 V218.6 Q484.4,216.4 482.6,216.4" class="k" stroke-width="1.6"/>
<rect x="434.50" y="221.90" width="17.40" height="12.60" class="t" style="fill:url(#xh)" stroke-width="1"/>
<rect x="467.00" y="221.90" width="17.40" height="12.60" class="t" style="fill:url(#xh)" stroke-width="1"/>
<line x1="434.50" y1="234.40" x2="451.90" y2="234.40" class="k" stroke-width="1.2"/>
<line x1="467.00" y1="234.40" x2="484.40" y2="234.40" class="k" stroke-width="1.2"/>
<clipPath id="discclip"><rect x="400" y="235.5" width="47.6" height="90"/><rect x="472" y="235.5" width="50" height="90"/></clipPath>
<circle cx="460.00" cy="280.60" r="47.20" class="k" stroke-width="1.5" clip-path="url(#discclip)"/>
<circle cx="460.00" cy="280.60" r="38.60" class="k" stroke-width="1.5" clip-path="url(#discclip)"/>
<path d="M449,236 Q447.4,262 448,280 Q448.6,300 448.8,326 H452.4 V236 Z" class="k" style="fill:url(#hat2)" stroke-width="1.1"/>
<path d="M470,236 Q470,262 472.8,280 Q470.6,292 470.6,326 H466.8 V236 Z" class="k" style="fill:url(#hat2)" stroke-width="1.1"/>
<rect x="435.00" y="326.40" width="17.00" height="12.80" class="t" style="fill:url(#xh)" stroke-width="1"/>
<rect x="467.00" y="326.40" width="17.00" height="12.80" class="t" style="fill:url(#xh)" stroke-width="1"/>
<line x1="435.00" y1="326.40" x2="452.00" y2="326.40" class="k" stroke-width="1.2"/>
<line x1="467.00" y1="326.40" x2="484.00" y2="326.40" class="k" stroke-width="1.2"/>
<path d="M433.8,320 V338.5 Q433.8,342.4 437,342.4" class="k" stroke-width="1.7"/>
<path d="M485.2,320 V338.5 Q485.2,342.4 482,342.4" class="k" stroke-width="1.7"/>
<path d="M437,340 H451.4 V363 H467.6 V340 H480.4 V347 L476,350 V372.6 Q476,375.8 472.8,375.8 H445.6 Q442.4,375.8 442.4,372.6 V350 L437,347 Z" class="k" style="fill:url(#hat)" stroke-width="1.4"/>
<line x1="441.00" y1="349.00" x2="441.00" y2="370.00" class="t" stroke-width="0.9"/>
<line x1="477.40" y1="349.00" x2="477.40" y2="370.00" class="t" stroke-width="0.9"/>
<rect x="452.6" y="236" width="14" height="126.6" fill="#fff"/>
<line x1="452.60" y1="115.00" x2="452.60" y2="363.00" class="k" stroke-width="1.2"/>
<line x1="466.40" y1="115.00" x2="466.40" y2="363.00" class="k" stroke-width="1.2"/>
<line x1="452.60" y1="362.60" x2="466.40" y2="362.60" class="k" stroke-width="1.2"/>
<circle cx="459.70" cy="254.40" r="1.60" class="k" style="fill:#111" stroke-width="0.6"/>
<circle cx="459.70" cy="262.20" r="1.60" class="k" style="fill:#111" stroke-width="0.6"/>
<line x1="456.80" y1="254.40" x2="462.60" y2="254.40" class="t" stroke-width="0.8"/>
<line x1="456.80" y1="262.20" x2="462.60" y2="262.20" class="t" stroke-width="0.8"/>
<line x1="437.20" y1="345.00" x2="437.20" y2="392.00" class="g" />
<line x1="481.60" y1="345.00" x2="481.60" y2="392.00" class="g" />
<line x1="437.20" y1="389.80" x2="481.60" y2="389.80" class="g" />
<path d="M437.2,389.8 l5,-1.4 v2.8 z M481.6,389.8 l-5,-1.4 v2.8 z" fill="#444"/>
<path d="M389.4,207.5 H406.9 L442.6,153.8" class="t" stroke-width="1"/>
<path d="M389.4,228.9 H406.9 L442.6,166.3" class="t" stroke-width="1"/>
<path d="M389.4,294.2 H406.9 L451.5,260" class="t" stroke-width="1"/>
<path d="M389.4,316.2 H406.9 L442.8,302.8" class="t" stroke-width="1"/>
<path d="M389.4,336.2 H406.9 L433,331" class="t" stroke-width="1"/>
<path d="M389.4,353.6 H406.9 L433,340" class="t" stroke-width="1"/>
<path d="M389.4,388.4 H406.9 L444,373" class="t" stroke-width="1"/>
<line x1="236.8" y1="10" x2="236.8" y2="386" class="c"/>
<path d="M128.5,280.5 H274.2 M277,280.5 H280.4 M282.6,280.5 H315.4" fill="none" stroke="#262626" stroke-width="1"/>
<line x1="459" y1="0" x2="459" y2="387" class="c"/>
<line x1="397.00" y1="89.00" x2="530.00" y2="89.00" class="c" />
<line x1="407.00" y1="280.70" x2="521.50" y2="280.70" class="c" />
<path d="M0.59,0.44 C0.54,0.56 0.44,0.62 0.3,0.62 C0.13,0.62 0.01,0.51 0.01,0.32 C0.01,0.13 0.13,0 0.31,0 C0.5,0 0.6,0.16 0.6,0.45 C0.6,0.79 0.48,1 0.27,1 C0.17,1 0.09,0.96 0.04,0.88" transform="translate(352.40,105.70) scale(10.170,11.300)" fill="none" stroke="#222" stroke-width="1.15" vector-effect="non-scaling-stroke" stroke-linecap="round" stroke-linejoin="round"/>
<path d="M0.3,0.46 C0.15,0.46 0.05,0.37 0.05,0.23 C0.05,0.09 0.15,0 0.3,0 C0.45,0 0.55,0.09 0.55,0.23 C0.55,0.37 0.45,0.46 0.3,0.46 C0.12,0.46 0,0.57 0,0.73 C0,0.9 0.13,1 0.3,1 C0.47,1 0.6,0.9 0.6,0.73 C0.6,0.57 0.48,0.46 0.3,0.46 Z" transform="translate(352.80,127.00) scale(10.350,11.500)" fill="none" stroke="#222" stroke-width="1.15" vector-effect="non-scaling-stroke" stroke-linecap="round" stroke-linejoin="round"/>
<path d="M0.08,0.2 C0.2,0.14 0.3,0.08 0.36,0 V1" transform="translate(540.40,10.80) scale(11.400,11.400)" fill="none" stroke="#222" stroke-width="1.15" vector-effect="non-scaling-stroke" stroke-linecap="round" stroke-linejoin="round"/>
<path d="M0.3,0 C0.08,0 0,0.25 0,0.5 C0,0.75 0.08,1 0.3,1 C0.52,1 0.6,0.75 0.6,0.5 C0.6,0.25 0.52,0 0.3,0 Z" transform="translate(546.80,10.80) scale(9.348,11.400)" fill="none" stroke="#222" stroke-width="1.15" vector-effect="non-scaling-stroke" stroke-linecap="round" stroke-linejoin="round"/>
<g transform="translate(124.8,213) rotate(-90)"><path d="M0,0 V1 M0.6,0 V1 M0,0.5 H0.6" transform="translate(0.00,0.00) scale(6.200,6.200)" fill="none" stroke="#222" stroke-width="1.0" vector-effect="non-scaling-stroke" stroke-linecap="round" stroke-linejoin="round"/><path d="M0.04,0.22 C0.07,0.07 0.18,0 0.31,0 C0.47,0 0.58,0.1 0.58,0.26 C0.58,0.42 0.45,0.53 0.02,1 H0.62" transform="translate(5.27,0.00) scale(6.200,6.200)" fill="none" stroke="#222" stroke-width="1.0" vector-effect="non-scaling-stroke" stroke-linecap="round" stroke-linejoin="round"/></g>
<g transform="translate(125.4,333.2) rotate(-90)"><path d="M0,0 V1 M0.6,0 V1 M0,0.5 H0.6" transform="translate(0.00,0.00) scale(6.200,6.200)" fill="none" stroke="#222" stroke-width="1.0" vector-effect="non-scaling-stroke" stroke-linecap="round" stroke-linejoin="round"/><path d="M0.08,0.2 C0.2,0.14 0.3,0.08 0.36,0 V1" transform="translate(5.27,0.00) scale(6.200,6.200)" fill="none" stroke="#222" stroke-width="1.0" vector-effect="non-scaling-stroke" stroke-linecap="round" stroke-linejoin="round"/></g>
<g transform="translate(402.2,131.2) rotate(-90)"><path d="M0,0 V1 M0.6,0 V1 M0,0.5 H0.6" transform="translate(0.00,0.00) scale(6.600,6.600)" fill="none" stroke="#222" stroke-width="1.0" vector-effect="non-scaling-stroke" stroke-linecap="round" stroke-linejoin="round"/><path d="M0.05,0.14 C0.12,0.04 0.21,0 0.31,0 C0.47,0 0.57,0.1 0.57,0.24 C0.57,0.38 0.46,0.46 0.27,0.46 C0.48,0.46 0.61,0.56 0.61,0.72 C0.61,0.89 0.48,1 0.3,1 C0.17,1 0.07,0.95 0.01,0.84" transform="translate(5.61,0.00) scale(6.600,6.600)" fill="none" stroke="#222" stroke-width="1.0" vector-effect="non-scaling-stroke" stroke-linecap="round" stroke-linejoin="round"/></g>
<g transform="translate(294.6,200.8) rotate(-54.7)"><path d="M0.32,0.12 C0.12,0.12 0.02,0.3 0.02,0.56 C0.02,0.82 0.12,1 0.32,1 C0.52,1 0.62,0.82 0.62,0.56 C0.62,0.3 0.52,0.12 0.32,0.12 Z M-0.02,1.02 L0.66,0.1" transform="translate(0.00,0.00) scale(6.400,6.400)" fill="none" stroke="#222" stroke-width="0.95" vector-effect="non-scaling-stroke" stroke-linecap="round" stroke-linejoin="round"/><path d="M0,1 L0.31,0 L0.62,1 M0.11,0.66 H0.51" transform="translate(5.63,0.00) scale(6.400,6.400)" fill="none" stroke="#222" stroke-width="0.95" vector-effect="non-scaling-stroke" stroke-linecap="round" stroke-linejoin="round"/></g>
<g transform="translate(313,233.2) rotate(-26.6)"><path d="M0.32,0.12 C0.12,0.12 0.02,0.3 0.02,0.56 C0.02,0.82 0.12,1 0.32,1 C0.52,1 0.62,0.82 0.62,0.56 C0.62,0.3 0.52,0.12 0.32,0.12 Z M-0.02,1.02 L0.66,0.1" transform="translate(0.00,0.00) scale(6.400,6.400)" fill="none" stroke="#222" stroke-width="0.95" vector-effect="non-scaling-stroke" stroke-linecap="round" stroke-linejoin="round"/><path d="M0,0 V1 H0.36 C0.53,1 0.62,0.9 0.62,0.75 C0.62,0.59 0.52,0.49 0.34,0.49 H0 M0,0 H0.33 C0.48,0 0.56,0.09 0.56,0.24 C0.56,0.39 0.47,0.49 0.33,0.49" transform="translate(5.63,0.00) scale(6.400,6.400)" fill="none" stroke="#222" stroke-width="0.95" vector-effect="non-scaling-stroke" stroke-linecap="round" stroke-linejoin="round"/></g>
<path d="M0,0 V1 H0.56" transform="translate(457.20,383.60) scale(6.200,6.200)" fill="none" stroke="#222" stroke-width="1.0" vector-effect="non-scaling-stroke" stroke-linecap="round" stroke-linejoin="round"/>
<path d="M0,0 H0.6 C0.42,0.28 0.3,0.6 0.24,1" transform="translate(395.80,194.60) scale(9.400,9.400)" fill="none" stroke="#222" stroke-width="1.1" vector-effect="non-scaling-stroke" stroke-linecap="round" stroke-linejoin="round"/>
<path d="M0.56,0.13 C0.5,0.04 0.42,0 0.33,0 C0.12,0 0.02,0.22 0.02,0.56 C0.02,0.86 0.13,1 0.31,1 C0.49,1 0.61,0.88 0.61,0.68 C0.61,0.49 0.49,0.38 0.32,0.38 C0.18,0.38 0.07,0.45 0.02,0.57" transform="translate(395.80,215.80) scale(9.400,9.400)" fill="none" stroke="#222" stroke-width="1.1" vector-effect="non-scaling-stroke" stroke-linecap="round" stroke-linejoin="round"/>
<path d="M0.56,0 H0.11 L0.06,0.44 C0.14,0.38 0.22,0.35 0.31,0.35 C0.49,0.35 0.61,0.48 0.61,0.67 C0.61,0.87 0.48,1 0.29,1 C0.16,1 0.06,0.95 0.01,0.85" transform="translate(395.80,281.00) scale(9.400,9.400)" fill="none" stroke="#222" stroke-width="1.1" vector-effect="non-scaling-stroke" stroke-linecap="round" stroke-linejoin="round"/>
<path d="M0.46,1 V0 L0,0.69 H0.64" transform="translate(395.80,303.60) scale(9.400,9.400)" fill="none" stroke="#222" stroke-width="1.1" vector-effect="non-scaling-stroke" stroke-linecap="round" stroke-linejoin="round"/>
<path d="M0.05,0.14 C0.12,0.04 0.21,0 0.31,0 C0.47,0 0.57,0.1 0.57,0.24 C0.57,0.38 0.46,0.46 0.27,0.46 C0.48,0.46 0.61,0.56 0.61,0.72 C0.61,0.89 0.48,1 0.3,1 C0.17,1 0.07,0.95 0.01,0.84" transform="translate(395.80,323.40) scale(9.400,9.400)" fill="none" stroke="#222" stroke-width="1.1" vector-effect="non-scaling-stroke" stroke-linecap="round" stroke-linejoin="round"/>
<path d="M0.04,0.22 C0.07,0.07 0.18,0 0.31,0 C0.47,0 0.58,0.1 0.58,0.26 C0.58,0.42 0.45,0.53 0.02,1 H0.62" transform="translate(395.80,340.60) scale(9.400,9.400)" fill="none" stroke="#222" stroke-width="1.1" vector-effect="non-scaling-stroke" stroke-linecap="round" stroke-linejoin="round"/>
<path d="M0.08,0.2 C0.2,0.14 0.3,0.08 0.36,0 V1" transform="translate(395.80,376.20) scale(9.400,9.400)" fill="none" stroke="#222" stroke-width="1.1" vector-effect="non-scaling-stroke" stroke-linecap="round" stroke-linejoin="round"/>
</svg>
</body></html>
